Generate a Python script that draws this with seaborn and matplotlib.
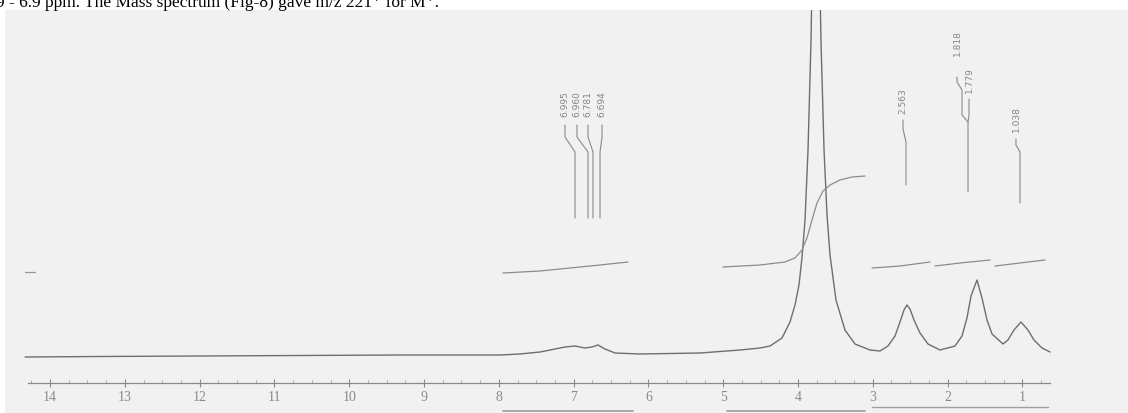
import matplotlib
matplotlib.use("Agg")
import matplotlib.pyplot as plt
import seaborn as sns
import numpy as np

# ---------------- data ----------------
# chemical shift (ppm) and intensity (arbitrary units, baseline = 0)
spec_ppm = [14.334, 13.332, 11.995, 10.658, 9.321, 7.984, 7.717, 7.449, 7.249,
            7.115, 6.981, 6.848, 6.754, 6.674, 6.580, 6.447, 6.112, 5.310,
            4.775, 4.508, 4.374, 4.214, 4.107, 4.040, 3.987, 3.947, 3.906,
            3.866, 3.826, 3.759, 3.693, 3.652, 3.612, 3.572, 3.492, 3.372,
            3.238, 3.037, 2.904, 2.797, 2.703, 2.636, 2.583, 2.543, 2.503,
            2.449, 2.369, 2.262, 2.102, 1.901, 1.807, 1.741, 1.687, 1.607,
            1.540, 1.473, 1.406, 1.259, 1.193, 1.112, 1.019, 0.925, 0.845,
            0.738, 0.631]
spec_int = [0, 0.5, 1, 1.5, 2, 2, 3, 5, 8,
            10, 11, 9, 10, 12, 8, 4, 3, 4,
            7, 9, 11, 19, 35, 52, 72, 99, 137,
            207, 317, 600, 317, 207, 142, 102, 57, 27,
            13, 7, 6, 11, 21, 35, 47, 52, 48,
            37, 24, 13, 7, 11, 21, 39, 61, 77,
            59, 37, 23, 13, 17, 27, 35, 27, 17,
            9, 5]

# integral traces (ppm, integral height)
integ1_ppm = [7.944, 7.449, 7.048, 6.647, 6.273]
integ1_val = [84, 86, 89, 92, 95]
integ2_ppm = [5.003, 4.508, 4.174, 4.040, 3.947, 3.880, 3.813, 3.746, 3.666,
              3.572, 3.439, 3.278, 3.104]
integ2_val = [90, 92, 95, 99, 107, 119, 137, 154, 166, 172, 177, 180, 181]
integ3_ppm = [3.010, 2.636, 2.235]
integ3_val = [89, 91, 95]
integ4_ppm = [2.168, 1.834, 1.433]
integ4_val = [91, 94, 97]
integ5_ppm = [1.366, 1.032, 0.698]
integ5_val = [91, 94, 97]

# peak-pick labels
pk1_labels = ["6.995", "6.960", "6.781", "6.694"]
pk1_text_ppm = [7.115, 6.955, 6.807, 6.620]
pk1_peak_ppm = [6.981, 6.807, 6.741, 6.647]
pk2_labels = ["2.563", "1.818", "1.779", "1.038"]
pk2_text_ppm = [2.596, 1.874, 1.714, 1.086]
pk2_text_top = [269, 327, 290, 251]

tick_values = [14, 13, 12, 11, 10, 9, 8, 7, 6, 5, 4, 3, 2, 1]

# ---------------- figure ----------------
sns.set_theme(style="white")
plt.rcParams['font.family'] = ['Liberation Serif', 'DejaVu Serif']

fig = plt.figure(figsize=(11.28, 4.13), dpi=100)
fig.patch.set_facecolor("white")
ax = fig.add_axes([5 / 1128, 0, 1123 / 1128, 403 / 413])
ax.set_facecolor("#f1f1f1")

line_col = "#6e6e6e"
sns.lineplot(x=spec_ppm, y=spec_int, ax=ax, color=line_col, lw=1.0,
             sort=False, estimator=None)

for xs, ys in [(integ1_ppm, integ1_val), (integ2_ppm, integ2_val),
               (integ3_ppm, integ3_val), (integ4_ppm, integ4_val),
               (integ5_ppm, integ5_val)]:
    sns.lineplot(x=xs, y=ys, ax=ax, color="#8c8c8c", lw=0.9,
                 sort=False, estimator=None)
ax.plot([14.334, 14.20], [85, 85], color="#999999", lw=0.9)

lab_col = "#858585"
lc = "#8a8a8a"
# peak-pick lines & labels, group 1 (aromatic)
for lab, tx, px in zip(pk1_labels, pk1_text_ppm, pk1_peak_ppm):
    ax.text(tx, 266, lab, rotation=90, ha="center", va="top",
            fontsize=6.5, color=lab_col, family=["DejaVu Sans"])
    ax.plot([tx, tx, px, px], [232, 220, 205, 139], color=lc, lw=0.8)

# group 2 (aliphatic)
for lab, tx, top in zip(pk2_labels, pk2_text_ppm, pk2_text_top):
    ax.text(tx, top, lab, rotation=90, ha="center", va="top",
            fontsize=6.5, color=lab_col, family=["DejaVu Sans"])
ax.plot([2.596, 2.596, 2.556, 2.556], [237, 228, 215, 172], color=lc, lw=0.8)
ax.plot([1.874, 1.874, 1.807, 1.807, 1.727, 1.727],
        [280, 275, 267, 242, 235, 165], color=lc, lw=0.8)
ax.plot([1.714, 1.714, 1.727], [258, 242, 235], color=lc, lw=0.8)
ax.plot([1.086, 1.086, 1.032, 1.032], [218, 212, 205, 154], color=lc, lw=0.8)

# integral bars under the axis
ax.plot([7.944, 6.206], [-54, -54], color="#9a9a9a", lw=1.2)
ax.plot([4.949, 3.104], [-54, -54], color="#9a9a9a", lw=1.2)
ax.plot([3.010, 0.66], [-50, -50], color="#a0a0a0", lw=1.0)

# axes / scale
ax.set_xlim(14.602, -0.412)
ax.set_ylim(-56, 347)
for s in ["top", "left", "right"]:
    ax.spines[s].set_visible(False)
ax.spines["bottom"].set_position(("data", -26))
ax.spines["bottom"].set_bounds(14.30, 0.63)
ax.spines["bottom"].set_color("#8a8a8a")
ax.spines["bottom"].set_linewidth(0.9)
ax.set_xticks(tick_values)
ax.set_xticklabels([str(t) for t in tick_values])
ax.set_xticks(np.arange(14.25, 0.6, -0.25), minor=True)
ax.tick_params(axis="x", which="major", direction="inout", length=6,
               width=0.8, color="#8a8a8a", labelcolor="#8a8a8a",
               labelsize=10, pad=3, bottom=True)
ax.tick_params(axis="x", which="minor", direction="in", length=2,
               width=0.6, color="#a0a0a0", bottom=True)
ax.set_yticks([])
ax.set_xlabel("")
ax.set_ylabel("")

# caption fragment from the page above the scan (cut at the top, as in the source)
fig.text(-4 / 1128, 1 - 7 / 413,
         "9 - 6.9 ppm. The Mass spectrum (Fig-8) gave m/z 221\u207a for M\u207a.",
         ha="left", va="baseline", fontsize=12.5, color="black",
         family=["Liberation Serif", "DejaVu Serif"])

fig.savefig("out.png", dpi=100)
